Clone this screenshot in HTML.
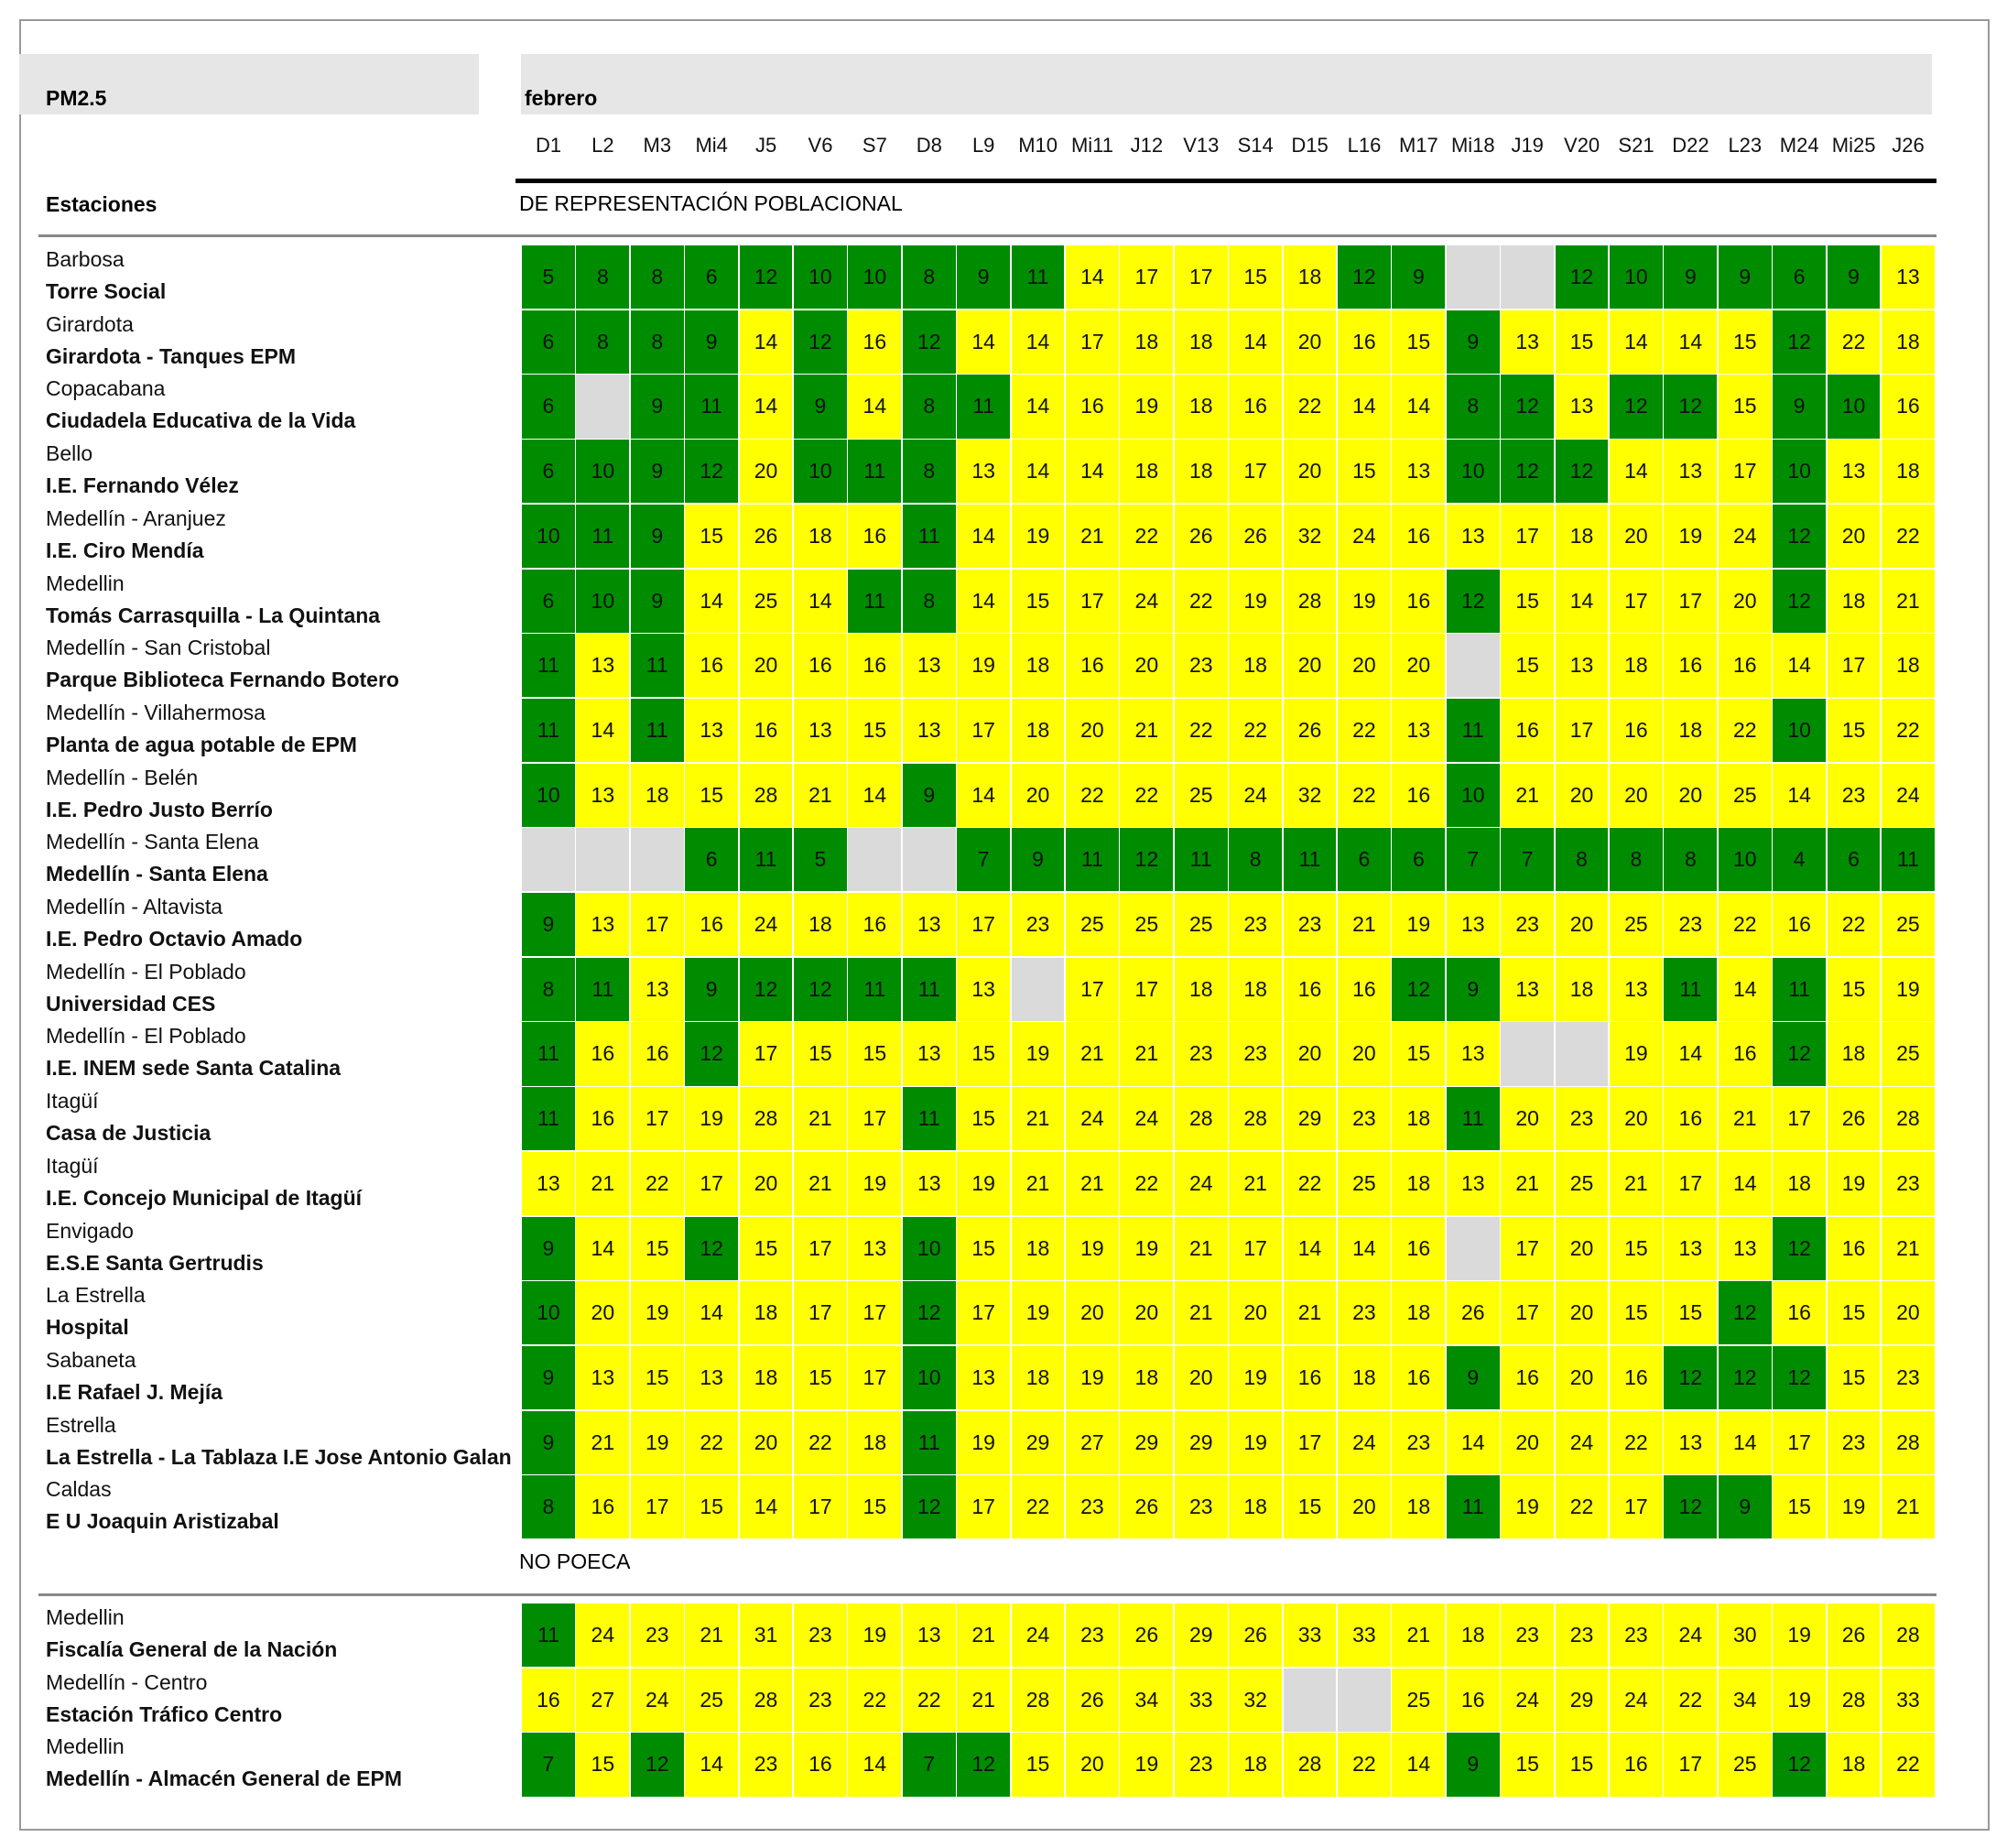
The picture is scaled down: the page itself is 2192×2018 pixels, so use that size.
<!DOCTYPE html>
<html><head><meta charset="utf-8">
<style>
body{margin:0;width:2192px;height:2018px;background:#fff;font-family:"Liberation Sans",sans-serif;position:relative;overflow:hidden}
.a{position:absolute}
.cell{position:absolute;box-sizing:border-box;border:1.5px solid #fff;display:flex;align-items:center;justify-content:center;font-size:23px;color:#111}
.lbl{position:absolute;left:50px;font-size:23px;color:#111;white-space:nowrap;line-height:26px}
.day{position:absolute;font-size:22px;text-align:center;width:60px;color:#111}
</style></head><body>
<div class="a" style="left:21px;top:21px;width:2148px;height:1974px;border:2px solid #999"></div>
<div class="a" style="left:21px;top:59px;width:502px;height:66px;background:#e6e6e6"></div>
<div class="a" style="left:50px;top:94px;font-size:23px;font-weight:bold">PM2.5</div>
<div class="a" style="left:569px;top:59px;width:1541px;height:66px;background:#e6e6e6"></div>
<div class="a" style="left:573px;top:94px;font-size:23px;font-weight:bold">febrero</div>
<div class="a" style="left:563px;top:195px;width:1552px;height:5px;background:#000"></div>
<div class="a" style="left:50px;top:210px;font-size:23px;font-weight:bold">Estaciones</div>
<div class="a" style="left:567px;top:209px;font-size:23px">DE REPRESENTACIÓN POBLACIONAL</div>
<div class="a" style="left:42px;top:256px;width:2073px;height:3px;background:#888"></div>
<div class="a" style="left:567px;top:1692px;font-size:23px">NO POECA</div>
<div class="a" style="left:42px;top:1740px;width:2073px;height:3px;background:#888"></div>
<div id="grid"></div>
<script>
const days=["D1","L2","M3","Mi4","J5","V6","S7","D8","L9","M10","Mi11","J12","V13","S14","D15","L16","M17","Mi18","J19","V20","S21","D22","L23","M24","Mi25","J26"];
const towns=["Barbosa","Girardota","Copacabana","Bello","Medellín - Aranjuez","Medellin","Medellín - San Cristobal","Medellín - Villahermosa","Medellín - Belén","Medellín - Santa Elena","Medellín - Altavista","Medellín - El Poblado","Medellín - El Poblado","Itagüí","Itagüí","Envigado","La Estrella","Sabaneta","Estrella","Caldas","Medellin","Medellín - Centro","Medellin"];
const stations=["Torre Social","Girardota - Tanques EPM","Ciudadela Educativa de la Vida","I.E. Fernando Vélez","I.E. Ciro Mendía","Tomás Carrasquilla - La Quintana","Parque Biblioteca Fernando Botero","Planta de agua potable de EPM","I.E. Pedro Justo Berrío","Medellín - Santa Elena","I.E. Pedro Octavio Amado","Universidad CES","I.E. INEM sede Santa Catalina","Casa de Justicia","I.E. Concejo Municipal de Itagüí","E.S.E Santa Gertrudis","Hospital","I.E Rafael J. Mejía","La Estrella - La Tablaza I.E Jose Antonio Galan","E U Joaquin Aristizabal","Fiscalía General de la Nación","Estación Tráfico Centro","Medellín - Almacén General de EPM"];
const N=null;
const values=[
[5,8,8,6,12,10,10,8,9,11,14,17,17,15,18,12,9,N,N,12,10,9,9,6,9,13],
[6,8,8,9,14,12,16,12,14,14,17,18,18,14,20,16,15,9,13,15,14,14,15,12,22,18],
[6,N,9,11,14,9,14,8,11,14,16,19,18,16,22,14,14,8,12,13,12,12,15,9,10,16],
[6,10,9,12,20,10,11,8,13,14,14,18,18,17,20,15,13,10,12,12,14,13,17,10,13,18],
[10,11,9,15,26,18,16,11,14,19,21,22,26,26,32,24,16,13,17,18,20,19,24,12,20,22],
[6,10,9,14,25,14,11,8,14,15,17,24,22,19,28,19,16,12,15,14,17,17,20,12,18,21],
[11,13,11,16,20,16,16,13,19,18,16,20,23,18,20,20,20,N,15,13,18,16,16,14,17,18],
[11,14,11,13,16,13,15,13,17,18,20,21,22,22,26,22,13,11,16,17,16,18,22,10,15,22],
[10,13,18,15,28,21,14,9,14,20,22,22,25,24,32,22,16,10,21,20,20,20,25,14,23,24],
[N,N,N,6,11,5,N,N,7,9,11,12,11,8,11,6,6,7,7,8,8,8,10,4,6,11],
[9,13,17,16,24,18,16,13,17,23,25,25,25,23,23,21,19,13,23,20,25,23,22,16,22,25],
[8,11,13,9,12,12,11,11,13,N,17,17,18,18,16,16,12,9,13,18,13,11,14,11,15,19],
[11,16,16,12,17,15,15,13,15,19,21,21,23,23,20,20,15,13,N,N,19,14,16,12,18,25],
[11,16,17,19,28,21,17,11,15,21,24,24,28,28,29,23,18,11,20,23,20,16,21,17,26,28],
[13,21,22,17,20,21,19,13,19,21,21,22,24,21,22,25,18,13,21,25,21,17,14,18,19,23],
[9,14,15,12,15,17,13,10,15,18,19,19,21,17,14,14,16,N,17,20,15,13,13,12,16,21],
[10,20,19,14,18,17,17,12,17,19,20,20,21,20,21,23,18,26,17,20,15,15,12,16,15,20],
[9,13,15,13,18,15,17,10,13,18,19,18,20,19,16,18,16,9,16,20,16,12,12,12,15,23],
[9,21,19,22,20,22,18,11,19,29,27,29,29,19,17,24,23,14,20,24,22,13,14,17,23,28],
[8,16,17,15,14,17,15,12,17,22,23,26,23,18,15,20,18,11,19,22,17,12,9,15,19,21],
[11,24,23,21,31,23,19,13,21,24,23,26,29,26,33,33,21,18,23,23,23,24,30,19,26,28],
[16,27,24,25,28,23,22,22,21,28,26,34,33,32,N,N,25,16,24,29,24,22,34,19,28,33],
[7,15,12,14,23,16,14,7,12,15,20,19,23,18,28,22,14,9,15,15,16,17,25,12,18,22]
];
const threshold=12;
const X0=569,CW=59.4,RH=70.7;
function xCol(c){return X0+c*CW;}
function yRow(r){return r<20?267+r*RH:1750+(r-20)*RH;}
const g=document.getElementById('grid');
days.forEach((d,c)=>{
  const el=document.createElement('div');
  el.className='day';
  
  
  el.style.left=(xCol(c))+'px';el.style.top='146px';el.textContent=d;g.appendChild(el);
});
values.forEach((row,r)=>{
  const y=yRow(r);
  const t=document.createElement('div');t.className='lbl';
  
  
  t.style.top=(y+3)+'px';t.textContent=towns[r];g.appendChild(t);
  const s=document.createElement('div');s.className='lbl';
  
  
  s.style.top=(y+38)+'px';s.style.fontWeight='bold';s.textContent=stations[r];g.appendChild(s);
  row.forEach((v,c)=>{
    const el=document.createElement('div');el.className='cell';
    
    
    el.style.left=xCol(c)+'px';el.style.top=y+'px';el.style.width=(CW+0.5)+'px';el.style.height=(RH+0.5)+'px';
    el.style.background=v===null?'#dadada':(v<=threshold?'#008c00':'#ffff00');
    el.textContent=v===null?'':v;
    g.appendChild(el);
  });
});
</script>
</body></html>
